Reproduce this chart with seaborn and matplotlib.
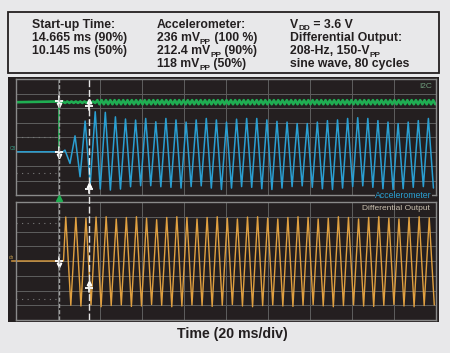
import re
import numpy as np
import pandas as pd
import matplotlib
matplotlib.use("Agg")
import matplotlib.pyplot as plt
import seaborn as sns
from matplotlib.patches import Rectangle

# ---------------- data (read from the scope capture) ----------------
time_per_div_ms = 20
n_hdiv = 10
n_vdiv = 8
signal_freq_hz = 208

cursor_start_ms = 20.3
startup_90_ms = 14.665

# I2C trace (divisions)
i2c_level = 2.4
i2c_ripple_early = 0.05
i2c_ripple = 0.14
i2c_ripple_period_ms = 2.05
i2c_busy_from_ms = 38.0

# Accelerometer trace (divisions, relative to its baseline)
accel_level = -1.02
accel_onset_ms = 22.4
accel_first_peak_ms = 23.3
accel_ups = [0.12, 1.10, 2.12, 2.76, 2.72, 2.41, 2.26, 2.19, 2.30, 2.07,
             2.30, 2.20, 2.05, 2.20, 2.30, 2.20, 2.05, 2.25, 2.30, 2.30,
             2.20, 2.10, 2.05, 1.95, 1.95, 2.05, 2.15, 2.20, 2.30, 2.35,
             2.30, 2.15, 2.05, 1.95, 2.05, 2.15, 2.30]
accel_downs = [-0.80, -1.72, -2.30, -2.57, -2.64, -2.57, -2.41, -2.34, -2.34, -2.41,
               -2.45, -2.50, -2.40, -2.35, -2.50, -2.60, -2.50, -2.40, -2.45, -2.55,
               -2.60, -2.50, -2.40, -2.35, -2.45, -2.55, -2.60, -2.50, -2.40, -2.35,
               -2.45, -2.55, -2.60, -2.55, -2.45, -2.40, -2.50]

# Differential output trace (divisions)
diff_level = 0.0
diff_onset_ms = 22.6
diff_first_peak_ms = 23.7
diff_ups = [2.98, 2.95, 2.90, 2.98, 3.00, 2.85, 2.95, 3.00, 2.90, 2.80,
            2.95, 3.00, 2.95, 2.85, 2.95, 3.00, 2.90, 2.85, 2.98, 3.00,
            2.90, 2.85, 2.95, 3.00, 2.95, 2.85, 2.90, 3.00, 2.95, 2.85,
            2.95, 3.00, 2.90, 2.85, 2.95, 3.00, 2.92]
diff_downs = [-3.00, -3.05, -2.98, -3.10, -3.02, -2.98, -3.08, -3.05, -2.95, -3.00,
              -3.10, -3.05, -2.98, -3.02, -3.08, -3.00, -2.95, -3.05, -3.10, -3.02,
              -2.98, -3.05, -3.08, -3.00, -2.96, -3.04, -3.10, -3.02, -2.98, -3.05,
              -3.08, -3.00, -2.95, -3.05, -3.10, -3.02, -2.98]

header_col1 = ["Start-up Time:", "14.665 ms (90%)", "10.145 ms (50%)"]
header_col2 = ["Accelerometer:", "236 mV_{PP} (100 %)",
               "212.4 mV_{PP} (90%)", "118 mV_{PP} (50%)"]
header_col3 = ["V_{DD} = 3.6 V", "Differential Output:",
               "208-Hz, 150-V_{PP}", "sine wave, 80 cycles"]
xlabel_text = "Time (20 ms/div)"

# ---------------- style ----------------
BG = "#e8e8ea"
SCREEN = "#241f20"
GRID = "#5e5e5e"
BORDER = "#8a8a8a"
GREEN = "#1fae52"
BLUE = "#2a9fd2"
ORANGE = "#e0a040"
TXT = "#231f20"

sns.set_style("dark")
plt.rcParams["font.family"] = ["Liberation Sans", "DejaVu Sans"]

W, H = 450, 353
fig = plt.figure(figsize=(W / 100, H / 100), dpi=100, facecolor=BG)
renderer = fig.canvas.get_renderer()


def fx(x):
    return x / W


def fy(y):
    return 1 - y / H


def rect_ax(l, t, r, b):
    return [l / W, 1 - b / H, (r - l) / W, (b - t) / H]


# header box and scope screen
fig.patches.append(Rectangle((fx(8), fy(73)), 430.5 / W, 61 / H, transform=fig.transFigure,
                             facecolor=BG, edgecolor=TXT, lw=1.3, zorder=-2))
fig.patches.append(Rectangle((fx(8), fy(321.7)), 430.7 / W, 244.7 / H, transform=fig.transFigure,
                             facecolor=SCREEN, edgecolor="none", zorder=-2))

ax_top = fig.add_axes(rect_ax(16, 79, 436, 195))
ax_bot = fig.add_axes(rect_ax(16, 202, 436, 320))
xmax = time_per_div_ms * n_hdiv
for ax in (ax_top, ax_bot):
    ax.set_facecolor(SCREEN)
    ax.set_xlim(0, xmax)
    ax.set_ylim(-n_vdiv / 2, n_vdiv / 2)
    ax.set_xticks(np.arange(0, xmax + 1, time_per_div_ms))
    ax.set_yticks(np.arange(-n_vdiv / 2, n_vdiv / 2 + 1, 1))
    ax.tick_params(length=0, labelbottom=False, labelleft=False)
    ax.grid(True, color=GRID, lw=0.7)
    for s in ax.spines.values():
        s.set_color(BORDER)
        s.set_linewidth(1.0)
        s.set_visible(True)

half = 1000.0 / signal_freq_hz / 2


def zigzag(level, onset, first, ups, downs, start_t):
    vals = []
    for u, d in zip(ups, downs):
        vals += [u, d]
    vals = np.array(vals)
    t = first + half * np.arange(len(vals))
    keep = t <= xmax
    ts = np.concatenate([[start_t, onset], t[keep]])
    ys = np.concatenate([[level, level], level + vals[keep]])
    return pd.DataFrame({"t": ts, "v": ys})


# faint reference dots left of the trigger
for lvl in (0.0, -2.5):
    ax_top.plot([0, cursor_start_ms], [lvl, lvl], color="#7a7a7a", lw=0.8, ls=(0, (1, 4)))
for lvl in (2.55, -2.55):
    ax_bot.plot([0, cursor_start_ms], [lvl, lvl], color="#7a7a7a", lw=0.8, ls=(0, (1, 4)))

# I2C trace
rh = i2c_ripple_period_ms / 2
n_r = int((xmax - cursor_start_ms) / rh) + 1
rt = cursor_start_ms + rh * np.arange(n_r)
ramp = np.where(rt < i2c_busy_from_ms, i2c_ripple_early, i2c_ripple)
rsign = np.where(np.arange(n_r) % 2 == 0, 1.0, -1.0)
i2c_df = pd.DataFrame({"t": np.concatenate([[0.0], rt]),
                       "v": np.concatenate([[i2c_level], i2c_level + rsign * ramp])})

accel_df = zigzag(accel_level, accel_onset_ms, accel_first_peak_ms, accel_ups, accel_downs, 0.0)
diff_df = zigzag(diff_level, diff_onset_ms, diff_first_peak_ms, diff_ups, diff_downs, -2.1)

link_df = pd.DataFrame({"t": [cursor_start_ms, cursor_start_ms], "v": [i2c_level, accel_level]})
sns.lineplot(data=link_df, x="t", y="v", ax=ax_top, color=GREEN, lw=1.2, estimator=None, sort=False)
sns.lineplot(data=accel_df, x="t", y="v", ax=ax_top, color=BLUE, lw=1.1, estimator=None, sort=False)
sns.lineplot(data=i2c_df, x="t", y="v", ax=ax_top, color=GREEN, lw=1.9, estimator=None, sort=False)
sns.lineplot(data=diff_df, x="t", y="v", ax=ax_bot, color=ORANGE, lw=1.0, estimator=None, sort=False)
ax_bot.lines[-1].set_clip_on(False)
for ax in (ax_top, ax_bot):
    ax.set_xlabel("")
    ax.set_ylabel("")

# overlay for the cursors (spans both panels)
ax_o = fig.add_axes(rect_ax(16, 79, 436, 320))
ax_o.set_xlim(0, xmax)
ax_o.set_ylim(320, 79)
ax_o.axis("off")
ax_o.patch.set_alpha(0)
c2 = cursor_start_ms + startup_90_ms
ax_o.axvline(cursor_start_ms, color="#a0a0a0", lw=1.0, ls=(0, (3, 1.5)))
ax_o.axvline(c2, color="#e6e6e6", lw=1.0, ls=(0, (5, 2)))
ax_o.plot([cursor_start_ms], [198.3], marker="^", ms=4, color=GREEN, ls="none")


def cursor_mark(ax, t, y, up, dy):
    ax.plot([t], [y], marker="_", ms=6, mew=1.3, color="white", zorder=6)
    ax.plot([t, t], [y - dy, y + dy], color="white", lw=1.2, zorder=6)
    ax.plot([t], [y + dy if up else y - dy], marker="^" if up else "v", ms=3.2,
            color="white", zorder=6, ls="none")


cursor_mark(ax_top, cursor_start_ms, i2c_level + 0.1, False, 0.3)
cursor_mark(ax_top, cursor_start_ms, accel_level, False, 0.3)
cursor_mark(ax_top, c2, i2c_level - 0.25, True, 0.3)
cursor_mark(ax_top, c2, accel_level + accel_downs[3], True, 0.3)
cursor_mark(ax_bot, cursor_start_ms, diff_level, False, 0.3)
cursor_mark(ax_bot, c2, diff_level - 1.8, True, 0.3)

# channel labels
fig.text(fx(431.7), fy(86), "I2C", ha="right", va="center", color="#6f9c7c", fontsize=6)
fig.text(fx(431.7), fy(195), "Accelerometer", ha="right", va="center", color=BLUE, fontsize=6.3,
         bbox=dict(facecolor=SCREEN, edgecolor="none", pad=0.4))
fig.text(fx(429.5), fy(209), "Differential Output", ha="right", va="center", color="#c9bfae",
         fontsize=6)
fig.text(fx(13), fy(148.5), "C8", ha="center", va="center", color="#3aa08a", fontsize=3.5)
fig.text(fx(11.5), fy(257.5), "ch", ha="center", va="center", color="#c8a050", fontsize=3.5)


# header text, with subscripts drawn as separate small texts
HFS = 8.8


def rich_text(x_px, base_px, s):
    parts = re.split(r"(_\{[^}]*\})", s)
    x = x_px
    for p in parts:
        if not p:
            continue
        if p.startswith("_{"):
            t = fig.text(fx(x), fy(base_px + 2.6), p[2:-1], ha="left", va="baseline",
                         color=TXT, fontsize=HFS * 0.68, fontweight="bold")
        else:
            t = fig.text(fx(x), fy(base_px), p, ha="left", va="baseline", color=TXT,
                         fontsize=HFS, fontweight="bold")
        bb = t.get_window_extent(renderer)
        x = bb.x1
    return x


baselines = [27.6, 40.9, 54.2, 67.2]
for col_x, lines in ((31.5, header_col1), (157, header_col2), (290, header_col3)):
    for i, s in enumerate(lines):
        rich_text(col_x, baselines[i], s)

fig.text(fx(232), fy(338.3), xlabel_text, ha="center", va="baseline", color=TXT,
         fontsize=10.2, fontweight="bold")

fig.savefig("out.png", dpi=100, facecolor=BG)
